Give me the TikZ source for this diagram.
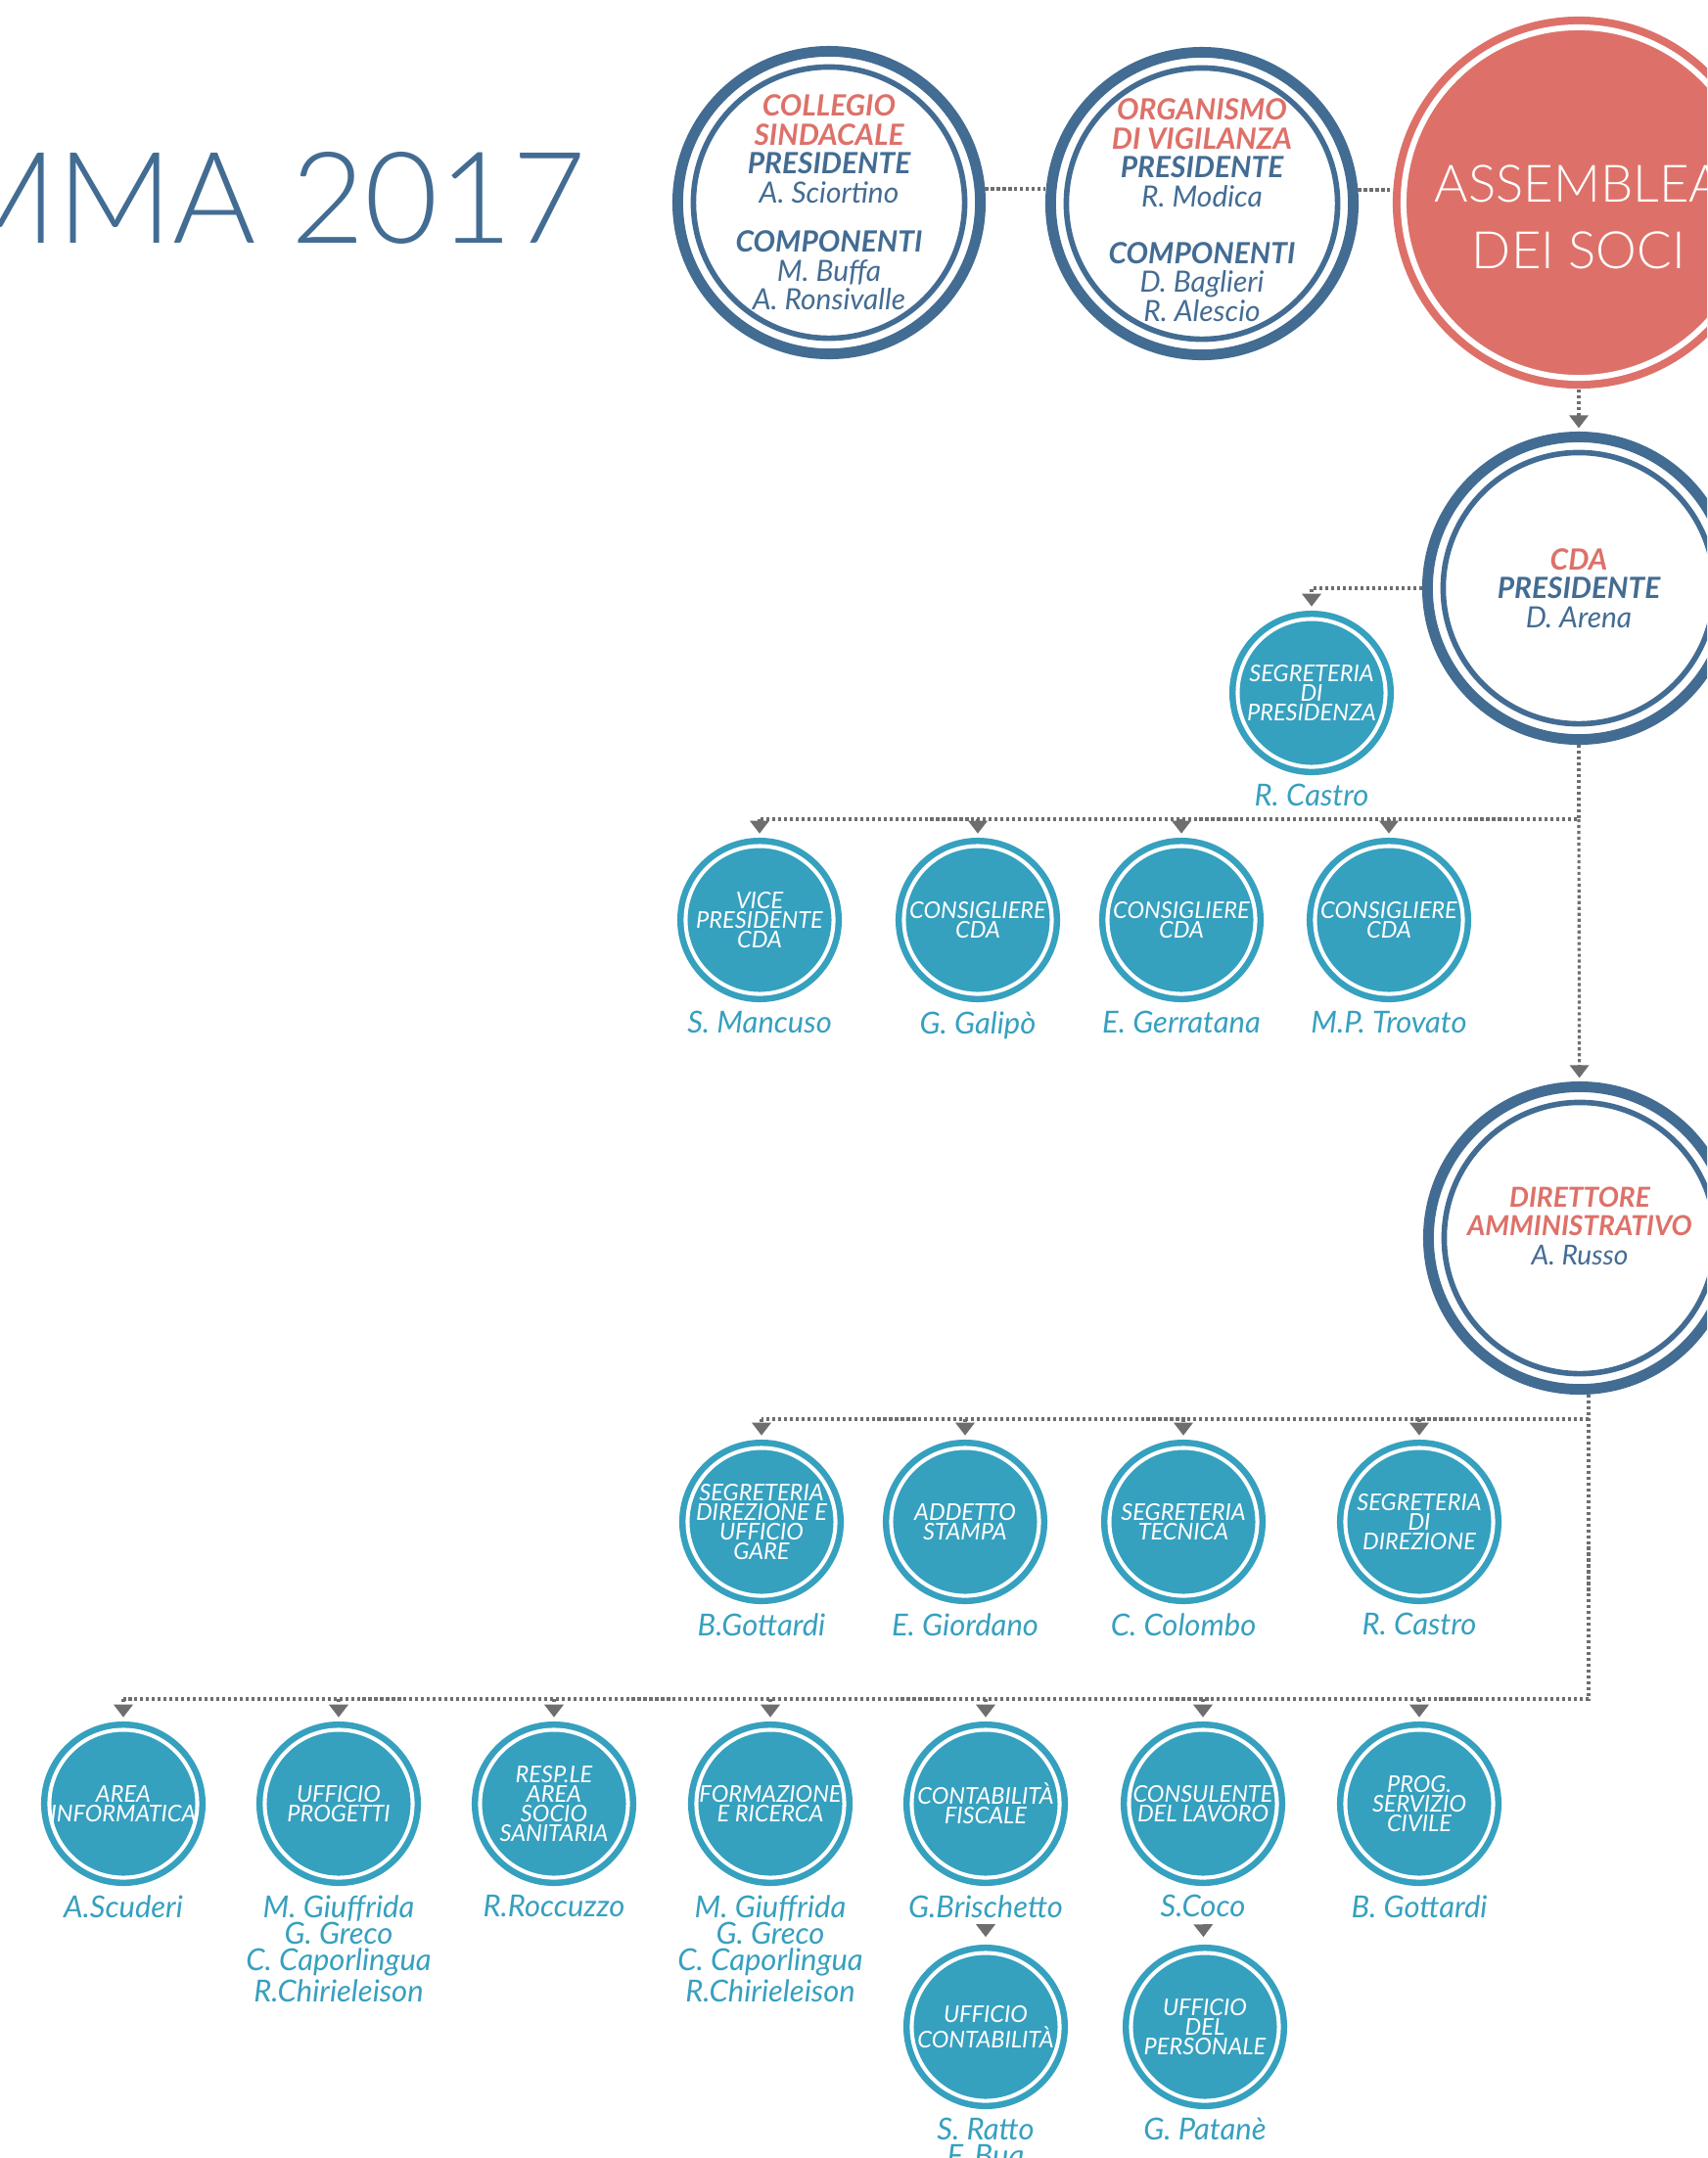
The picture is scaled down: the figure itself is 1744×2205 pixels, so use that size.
\documentclass[tikz,border=0pt]{standalone}
\usepackage{fontspec}
\setmainfont{Lato}
\newfontfamily\lightfont{Lato Light}
\usetikzlibrary{arrows.meta, positioning}
\definecolor{orgblue}{RGB}{67,108,147}
\definecolor{orgred}{RGB}{221,113,105}
\definecolor{orgteal}{RGB}{54,160,191}
\definecolor{linkgray}{RGB}{110,110,110}
\newcommand{\orghead}[1]{{\color{orgred}\bfseries #1}}
\newcommand{\orgrole}[1]{{\bfseries #1}}
\tikzstyle{board} = [circle, minimum size=3.09cm, inner sep=0pt, draw=orgblue, line width=3.1pt, fill=white, text=orgblue, align=center, font=\fontsize{8.5}{8.4}\selectfont\itshape, path picture={\draw[orgblue, line width=1.6pt] (path picture bounding box.center) circle (1.385cm);}]
\tikzstyle{assembly} = [circle, minimum size=3.8cm, inner sep=0pt, fill=orgred, text=white, align=center, font=\lightfont\fontsize{15}{19.3}\selectfont, path picture={\draw[white, line width=1.7pt] (path picture bounding box.center) circle (1.79cm);}]
\tikzstyle{unit} = [circle, minimum size=1.68cm, inner sep=0pt, fill=orgteal, text=white, align=center, font=\fontsize{6.7}{5.7}\selectfont\itshape, path picture={\draw[white, line width=1.15pt] (path picture bounding box.center) circle (0.755cm);}]
\tikzstyle{holder} = [inner sep=0pt, text=orgteal, align=center, font=\fontsize{8.8}{7.7}\selectfont\itshape]
\tikzstyle{link} = [draw=linkgray, line width=0.9pt, dash pattern=on 0.9pt off 0.8pt]
\tikzstyle{arrow} = [link, -{Triangle[width=5.4pt, length=3.7pt]}, shorten >=1pt]

\begin{document}
\begin{tikzpicture}[x=0.01cm, y=-0.01cm]
	\useasboundingbox (0,0) rectangle (1744,2205);
	\clip (0,0) rectangle (1744,2205);
	\fill[white] (0,0) rectangle (1744,2205);

	% Title
	\node[anchor=base east, inner sep=0pt, text=orgblue, font=\lightfont\fontsize{37}{37}\selectfont] (title) at (600,248) {MMA 2017};

	% Top row
	\node[board] (collegio) at (847,207) {\orghead{COLLEGIO}\\ \orghead{SINDACALE}\\ \orgrole{PRESIDENTE}\\ A. Sciortino\\[6pt] \orgrole{COMPONENTI}\\ M. Buffa\\ A. Ronsivalle};
	\node[board] (organismo) at (1228,208) {\rule{0pt}{10pt}\orghead{ORGANISMO}\\ \orghead{DI VIGILANZA}\\ \orgrole{PRESIDENTE}\\ R. Modica\\[8pt] \orgrole{COMPONENTI}\\ D. Baglieri\\ R. Alescio};
	\node[assembly] (assemblea) at (1613,207) {\rule{0pt}{19pt}ASSEMBLEA\\DEI SOCI};

	% CDA
	\node[board] (cda) at (1613,601) {\orghead{CDA}\\ \orgrole{PRESIDENTE}\\ D. Arena};
	\node[unit] (segpres) at (1340,708) {SEGRETERIA\\DI\\PRESIDENZA};
	\node[holder, below=0.08cm of segpres] (castroa) {R. Castro};

	% Consiglieri
	\node[unit] (vice) at (776,940) {VICE\\PRESIDENTE\\CDA};
	\node[unit] (consa) at (999,940) {CONSIGLIERE\\CDA};
	\node[unit] (consb) at (1207,940) {CONSIGLIERE\\CDA};
	\node[unit] (consc) at (1419,940) {CONSIGLIERE\\CDA};
	\node[holder, below=0.08cm of vice] (mancuso) {S. Mancuso};
	\node[holder, below=0.08cm of consa] (galipo) {G. Galipò};
	\node[holder, below=0.08cm of consb] (gerratana) {E. Gerratana};
	\node[holder, below=0.08cm of consc] (trovato) {M.P. Trovato};

	% Direttore
	\node[board, font=\fontsize{8}{8.4}\selectfont\itshape] (direttore) at (1614,1265) {\orghead{DIRETTORE}\\ \orghead{AMMINISTRATIVO}\\ A. Russo\rule[-7pt]{0pt}{7pt}};

	% Staff
	\node[unit] (seggare) at (778,1555) {SEGRETERIA\\DIREZIONE E\\UFFICIO\\GARE};
	\node[unit] (stampa) at (986,1555) {ADDETTO\\STAMPA};
	\node[unit] (segtec) at (1209,1555) {SEGRETERIA\\TECNICA};
	\node[unit] (segdir) at (1450,1555) {SEGRETERIA\\DI\\DIREZIONE};
	\node[holder, below=0.08cm of seggare] (gottardia) {B.Gottardi};
	\node[holder, below=0.08cm of stampa] (giordano) {E. Giordano};
	\node[holder, below=0.08cm of segtec] (colombo) {C. Colombo};
	\node[holder, below=0.08cm of segdir] (castrob) {R. Castro};

	% Aree
	\node[unit] (informatica) at (126,1843) {AREA\\INFORMATICA};
	\node[unit] (progetti) at (346,1843) {UFFICIO\\PROGETTI};
	\node[unit] (sociosan) at (566,1843) {RESP.LE\\AREA\\SOCIO\\SANITARIA};
	\node[unit] (formazione) at (787,1843) {FORMAZIONE\\E RICERCA};
	\node[unit] (contfisc) at (1007,1843) {CONTABILITÀ\\FISCALE};
	\node[unit] (lavoro) at (1229,1843) {CONSULENTE\\DEL LAVORO};
	\node[unit] (civile) at (1450,1843) {PROG.\\SERVIZIO\\CIVILE};
	\node[holder, below=0.08cm of informatica] (scuderi) {A.Scuderi};
	\node[holder, below=0.08cm of progetti] (teamprog) {M. Giuffrida\\G. Greco\\C. Caporlingua\\R.Chirieleison};
	\node[holder, below=0.08cm of sociosan] (roccuzzo) {R.Roccuzzo};
	\node[holder, below=0.08cm of formazione] (teamform) {M. Giuffrida\\G. Greco\\C. Caporlingua\\R.Chirieleison};
	\node[holder, below=0.08cm of contfisc] (brischetto) {G.Brischetto};
	\node[holder, below=0.08cm of lavoro] (coco) {S.Coco};
	\node[holder, below=0.08cm of civile] (gottardib) {B. Gottardi};

	% Uffici
	\node[unit] (ufficont) at (1007,2071) {UFFICIO\\CONTABILITÀ};
	\node[unit] (personale) at (1231,2071) {UFFICIO\\DEL\\PERSONALE};
	\node[holder, below=0.08cm of ufficont] (ratto) {S. Ratto\\F. Bua};
	\node[holder, below=0.08cm of personale] (patane) {G. Patanè};

	% Links top row
	\draw[link] (collegio.5) -- (collegio.5 -| organismo.west);
	\draw[link] (organismo.5) -- (organismo.5 -| assemblea.west);
	\draw[arrow] (assemblea) -- (cda);
	\draw[arrow] (cda.west) -| (segpres);

	% CDA bus
	\coordinate (cdabus) at (1613,837);
	\draw[link] (cda) -- (cdabus) -- (cdabus -| vice);
	\foreach \n in {vice, consa, consb, consc}
		\draw[arrow] (cdabus -| \n) -- (\n);
	\draw[arrow] (cdabus) -- (direttore);

	% Direttore bus
	\coordinate (dirbus) at (1623,1450);
	\coordinate (areabus) at (1623,1736);
	\draw[link] (direttore.south -| dirbus) -- (areabus) -- (areabus -| informatica);
	\draw[link] (dirbus) -- (dirbus -| seggare);
	\foreach \n in {seggare, stampa, segtec, segdir}
		\draw[arrow] (dirbus -| \n) -- (\n);
	\foreach \n in {informatica, progetti, sociosan, formazione, contfisc, lavoro, civile}
		\draw[arrow] (areabus -| \n) -- (\n);

	% Sub offices
	\draw[arrow, shorten <=3pt, shorten >=2pt] (brischetto) -- (ufficont);
	\draw[arrow, shorten <=3pt, shorten >=2pt] (coco) -- (personale);

\end{tikzpicture}
\end{document}
